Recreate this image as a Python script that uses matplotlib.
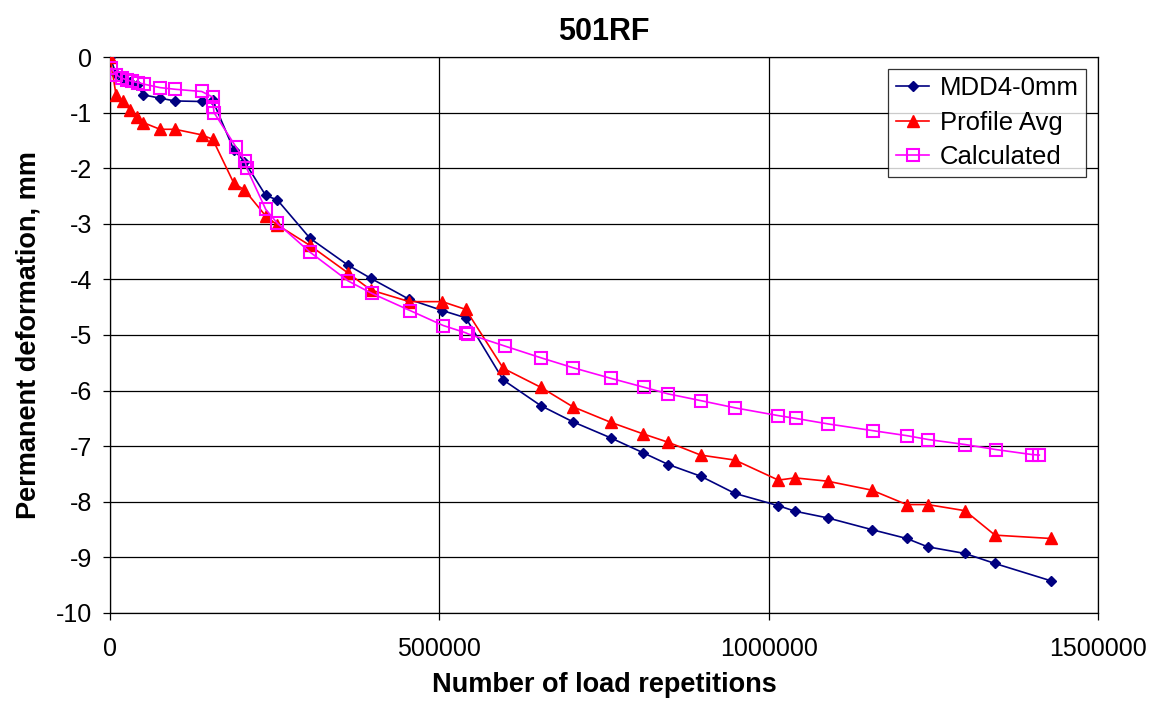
import matplotlib
matplotlib.use("Agg")
import matplotlib.pyplot as plt
from matplotlib.ticker import FuncFormatter

plt.rcParams['font.family'] = ['Liberation Sans', 'DejaVu Sans']

title = "501RF"
xlabel = "Number of load repetitions"
ylabel = "Permanent deformation, mm"

x_mdd = [0, 9100, 19200, 30400, 40500, 50600, 75900, 98700, 139200, 155900,
         188000, 204000, 236400, 254000, 303600, 360800, 395800, 454500, 504500, 540000,
         597100, 653900, 702500, 760100, 809700, 847600, 896800, 948900, 1014700, 1040000,
         1089600, 1156400, 1209500, 1241400, 1298000, 1343600, 1428200]
y_mdd = [0, -0.30, -0.40, -0.45, -0.50, -0.68, -0.74, -0.79, -0.80, -0.78,
         -1.67, -1.88, -2.49, -2.57, -3.26, -3.74, -3.98, -4.36, -4.56, -4.69,
         -5.81, -6.27, -6.56, -6.85, -7.12, -7.33, -7.54, -7.85, -8.07, -8.17,
         -8.29, -8.50, -8.66, -8.81, -8.93, -9.11, -9.42]

x_prof = x_mdd
y_prof = [0, -0.68, -0.80, -0.95, -1.07, -1.18, -1.30, -1.30, -1.40, -1.48,
          -2.27, -2.39, -2.86, -3.02, -3.39, -3.88, -4.19, -4.40, -4.40, -4.54,
          -5.60, -5.94, -6.29, -6.57, -6.78, -6.93, -7.16, -7.25, -7.61, -7.57,
          -7.63, -7.79, -8.05, -8.05, -8.16, -8.60, -8.66]

x_calc = [1500, 9100, 17800, 25400, 33900, 43000, 52100, 75900, 98700, 139200,
          155900, 156800, 157900, 190800, 205000, 207500, 236400, 254000, 303600, 361800,
          397300, 455500, 506000, 540000, 543500, 599700, 654300, 703400, 760600, 810800,
          847600, 896800, 948900, 1014600, 1041000, 1090500, 1157900, 1209500, 1242300, 1298000,
          1344700, 1399300, 1410900]
y_calc = [-0.20, -0.32, -0.38, -0.41, -0.44, -0.46, -0.49, -0.55, -0.58, -0.62,
          -0.72, -0.89, -1.00, -1.61, -1.87, -2.00, -2.74, -2.99, -3.51, -4.03,
          -4.25, -4.56, -4.83, -4.96, -4.98, -5.20, -5.41, -5.59, -5.78, -5.94,
          -6.06, -6.18, -6.31, -6.45, -6.50, -6.60, -6.72, -6.81, -6.88, -6.97,
          -7.06, -7.15, -7.16]

x_ticks = [0, 500000, 1000000, 1500000]
y_ticks = list(range(0, -11, -1))

fig = plt.figure(figsize=(11.57, 7.04), dpi=100)
ax = fig.add_axes([0.0951, 0.1293, 0.8539, 0.7897])

ax.plot(x_mdd, y_mdd, color='#000080', lw=1.2, marker='D', ms=5.5,
        mfc='#000080', mec='#000080', label='MDD4-0mm', zorder=3)
ax.plot(x_prof, y_prof, color='#FF0000', lw=1.2, marker='^', ms=8,
        mfc='#FF0000', mec='#FF0000', label='Profile Avg', zorder=3)
ax.plot(x_calc, y_calc, color='#FF00FF', lw=1.2, marker='s', ms=8,
        mfc='none', mec='#FF00FF', mew=1.5, label='Calculated', zorder=4)

ax.set_xlim(0, 1500000)
ax.set_ylim(-10, 0)
ax.set_xticks(x_ticks)
ax.set_yticks(y_ticks)
ax.xaxis.set_major_formatter(FuncFormatter(lambda v, p: f"{int(v)}"))
ax.yaxis.set_major_formatter(FuncFormatter(lambda v, p: f"{int(v)}"))
ax.grid(True, color='black', lw=0.9, zorder=0)
ax.set_axisbelow(True)
for s in ax.spines.values():
    s.set_color('black')
    s.set_linewidth(0.9)
ax.tick_params(axis='both', labelsize=18, direction='out', length=5, width=0.9)
ax.tick_params(axis='x', pad=12)
ax.tick_params(axis='y', pad=8)

ax.set_title(title, fontsize=22, fontweight='bold', pad=12)
ax.set_xlabel(xlabel, fontsize=19.5, fontweight='bold', labelpad=8)
ax.set_ylabel(ylabel, fontsize=19.5, fontweight='bold', labelpad=10)

leg = ax.legend(loc='upper right', fontsize=18.5, frameon=True, fancybox=False,
                edgecolor='black', borderpad=0.3, labelspacing=0.4,
                handlelength=1.3, handletextpad=0.4, borderaxespad=0.45)
leg.get_frame().set_linewidth(0.9)

fig.savefig('out.png', dpi=100)
